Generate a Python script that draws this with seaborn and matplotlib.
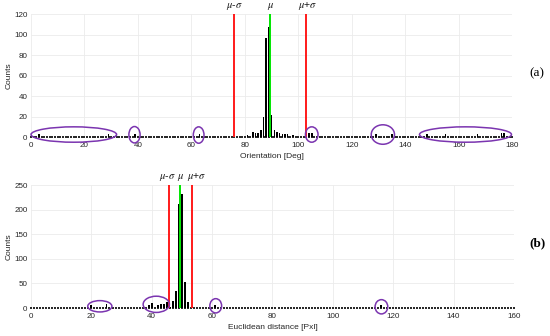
import matplotlib
matplotlib.use("Agg")
import matplotlib.pyplot as plt
import matplotlib.transforms as mtransforms
from matplotlib.patches import Ellipse
import numpy as np
import pandas as pd
import seaborn as sns

# (a) orientation histogram: non-zero bins only, every other bin is 0
orient_bins = [3, 29, 39, 63, 81, 83, 84, 85, 86, 87, 88, 89, 90, 91, 92, 93, 94, 95, 96, 98,
               104, 105, 129, 135, 148, 155, 167, 176, 177]
orient_counts = [3, 3, 3, 3, 2, 5, 4, 4, 7, 20, 97, 107, 22, 7, 5, 4, 3, 3, 3, 2,
                 4, 4, 3, 3, 3, 3, 3, 4, 4]
orient_mu, orient_sigma = 89.5, 13.5

# (b) euclidean distance histogram
dist_bins = [20, 25, 39, 40, 42, 43, 44, 45, 46, 47, 48, 49, 50, 51, 52, 61, 116]
dist_counts = [7, 8, 7, 10, 6, 8, 9, 12, 3, 14, 35, 212, 231, 52, 12, 6, 6]
dist_mu, dist_sigma = 49.5, 3.8

# purple ellipses (center x, center y, width, height) in data units
orient_rings = [(16, 2.5, 32, 15), (38.7, 2.3, 4.2, 16), (62.7, 2.0, 4.0, 16),
                (105, 2.5, 4.7, 15), (131.6, 2.5, 8.7, 19), (162.5, 2.5, 34.4, 15)]
dist_rings = [(22.8, 3.5, 8.0, 23), (41.5, 7.5, 8.7, 33), (61.2, 4.5, 3.9, 29),
              (116.1, 2.5, 4.2, 29)]

sns.set_theme(style="white")
plt.rcParams['font.family'] = ['Liberation Sans', 'DejaVu Sans']
plt.rcParams['mathtext.fontset'] = 'stix'

txt = '#262626'


def full_hist(bins, counts, xmax):
    df = pd.DataFrame({'x': np.arange(xmax + 1), 'count': 0})
    df.loc[bins, 'count'] = counts
    return df


def draw_panel(ax, df, mu, sigma, ymax, yticks, xmax, rings, xlabel, shifts):
    sns.barplot(data=df, x='x', y='count', native_scale=True, width=0.6,
                color='black', linewidth=0, saturation=1,
                errorbar=None, ax=ax, zorder=2)
    # empty bins show as short dashes on the zero line (like MATLAB bar)
    sns.scatterplot(x=df['x'], y=np.zeros(len(df)), marker='_', s=2.2,
                    color='black', linewidth=1.2, clip_on=False, ax=ax, zorder=2)
    ax.set_xlim(0, xmax)
    ax.set_ylim(0, ymax)
    ax.set_xticks(np.arange(0, xmax + 1, 20))
    ax.set_yticks(yticks)
    ax.grid(True, color='#ebebeb', linewidth=0.6, zorder=0)
    ax.set_axisbelow(True)
    for s in ax.spines.values():
        s.set_visible(False)
    ax.tick_params(axis='x', length=0, pad=3.5, labelsize=5.8, labelcolor=txt)
    ax.tick_params(axis='y', length=0, pad=2.5, labelsize=5.8, labelcolor=txt)
    ax.set_xlabel(xlabel, fontsize=6, color=txt, labelpad=3)
    ax.set_ylabel('Counts', fontsize=6, color=txt, labelpad=1)

    lines = [(mu - sigma, '#ff1a1a', r'$\mu$-$\sigma$'),
             (mu, '#00e600', r'$\mu$'),
             (mu + sigma, '#ff1a1a', r'$\mu$+$\sigma$')]
    trans = mtransforms.blended_transform_factory(ax.transData, ax.transAxes)
    for (xv, col, lab), dx in zip(lines, shifts):
        ax.vlines(xv, 0, ymax, color=col, linewidth=1.4, zorder=3)
        ax.annotate(lab, xy=(xv, 1.0), xycoords=trans, xytext=(dx, 1.2),
                    textcoords='offset points', ha='center', va='bottom',
                    fontsize=7.6, color='#1a1a1a')

    for cx, cy, w, h in rings:
        ax.add_patch(Ellipse((cx, cy), w, h, fill=False, edgecolor='#7b35b0',
                             linewidth=1.1, clip_on=False, zorder=4))


fig = plt.figure(figsize=(5.5, 3.36), dpi=100)
ax_a = fig.add_axes([0.0564, 0.592, 0.875, 0.366])
ax_b = fig.add_axes([0.0564, 0.0833, 0.878, 0.366])

draw_panel(ax_a, full_hist(orient_bins, orient_counts, 180), orient_mu, orient_sigma,
           120, np.arange(0, 121, 20), 180, orient_rings, 'Orientation [Deg]', (0, 0, 1))
draw_panel(ax_b, full_hist(dist_bins, dist_counts, 160), dist_mu, dist_sigma,
           250, np.arange(0, 251, 50), 160, dist_rings, 'Euclidean distance [Pxl]',
           (-0.8, 0, 3.2))

fig.text(537 / 550, 1 - 73 / 336, '(a)', family='Liberation Serif', fontsize=9.5,
         ha='center', va='center', color='black')
fig.text(537 / 550, 1 - 243 / 336, '(b)', family='Liberation Serif', fontsize=9.5,
         fontweight='bold', ha='center', va='center', color='black')

fig.savefig('out.png', dpi=100)
